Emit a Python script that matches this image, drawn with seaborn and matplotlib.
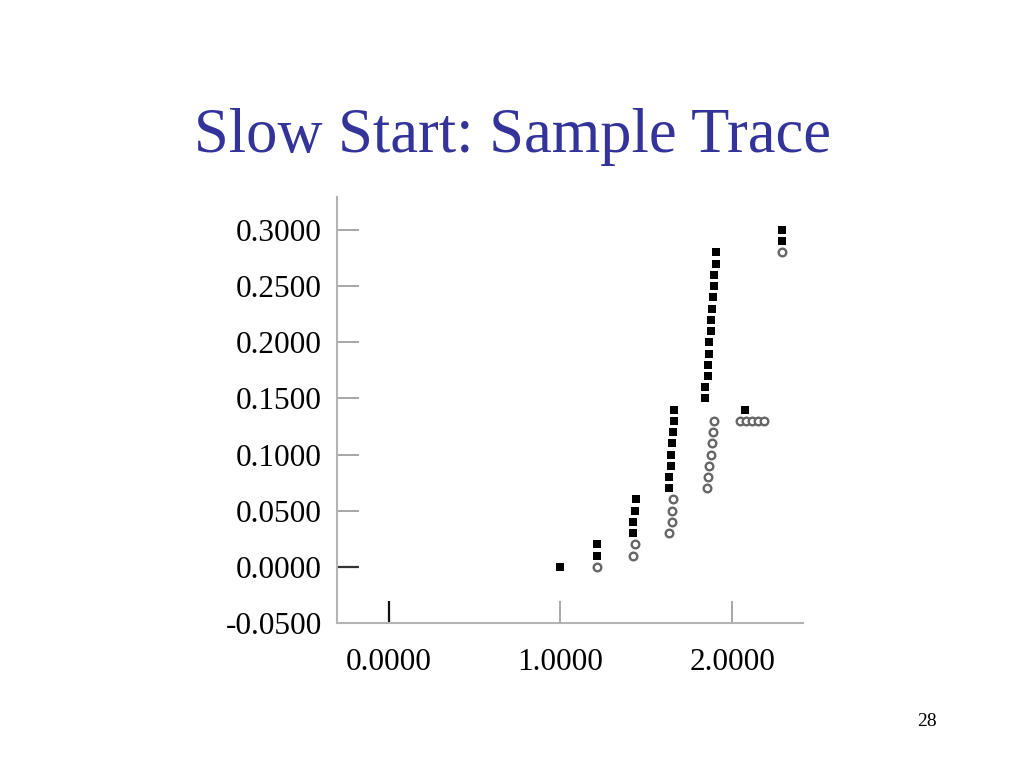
import matplotlib
matplotlib.use("Agg")
import matplotlib.pyplot as plt
import seaborn as sns
import pandas as pd

title = "Slow Start: Sample Trace"
page_number = "28"

# data segments sent (black squares)
seg_x = [1.000,
         1.213, 1.213,
         1.425, 1.425, 1.435, 1.439,
         1.632, 1.632, 1.644, 1.644, 1.650, 1.656, 1.662, 1.662,
         1.842, 1.842, 1.860, 1.860, 1.866, 1.866, 1.877, 1.877,
         1.883, 1.889, 1.895, 1.895, 1.906, 1.906,
         2.075,
         2.290, 2.290]
seg_y = [0.00,
         0.01, 0.02,
         0.03, 0.04, 0.05, 0.06,
         0.07, 0.08, 0.09, 0.10, 0.11, 0.12, 0.13, 0.14,
         0.15, 0.16, 0.17, 0.18, 0.19, 0.20, 0.21, 0.22,
         0.23, 0.24, 0.25, 0.26, 0.27, 0.28,
         0.14,
         0.29, 0.30]

# acks received (grey open circles)
ack_x = [1.212,
         1.425, 1.435,
         1.632, 1.650, 1.650, 1.656,
         1.851, 1.860, 1.868, 1.877, 1.883, 1.889, 1.897,
         2.046, 2.081, 2.116, 2.151, 2.186,
         2.290]
ack_y = [0.00,
         0.01, 0.02,
         0.03, 0.04, 0.05, 0.06,
         0.07, 0.08, 0.09, 0.10, 0.11, 0.12, 0.13,
         0.13, 0.13, 0.13, 0.13, 0.13,
         0.28]

x_ticks = [0.0, 1.0, 2.0]
x_tick_labels = ["0.0000", "1.0000", "2.0000"]
y_ticks = [-0.05, 0.0, 0.05, 0.10, 0.15, 0.20, 0.25, 0.30]
y_tick_labels = ["-0.0500", "0.0000", "0.0500", "0.1000",
                 "0.1500", "0.2000", "0.2500", "0.3000"]

sns.set_style("white")
plt.rcParams["font.family"] = ["Liberation Serif", "DejaVu Serif"]

fig = plt.figure(figsize=(10.24, 7.68), dpi=100)
ax = fig.add_axes([0.3291, 0.1888, 0.4551, 0.5547])

seg_df = pd.DataFrame({"t": seg_x, "seq": seg_y})
ack_df = pd.DataFrame({"t": ack_x, "seq": ack_y})

sns.scatterplot(data=seg_df, x="t", y="seq", marker="s", s=38,
                color="black", edgecolor="black", linewidth=0, ax=ax, zorder=3)
sns.scatterplot(data=ack_df, x="t", y="seq", marker="o", s=30,
                facecolor="white", edgecolor="#666666", linewidth=1.7,
                ax=ax, zorder=3)

ax.set_xlim(-0.301, 2.413)
ax.set_ylim(-0.05, 0.3294)
ax.set_xlabel("")
ax.set_ylabel("")

ax.set_xticks(x_ticks)
ax.set_xticklabels(x_tick_labels)
ax.set_yticks(y_ticks)
ax.set_yticklabels(y_tick_labels)

for side in ["top", "right"]:
    ax.spines[side].set_visible(False)
for side in ["left", "bottom"]:
    ax.spines[side].set_color("#b4b4b4")
    ax.spines[side].set_linewidth(1.5)

ax.tick_params(axis="both", which="major", bottom=True, left=True,
               direction="in", length=16, width=1.3,
               color="#a0a0a0", labelsize=22.5, labelcolor="black")
ax.tick_params(axis="x", pad=18)
ax.tick_params(axis="y", pad=11)

for t in ax.xaxis.get_major_ticks():
    if abs(t.get_loc()) < 1e-9:
        t.tick1line.set_markeredgecolor("#111111")
        t.tick1line.set_markeredgewidth(1.6)
for t in ax.yaxis.get_major_ticks():
    if abs(t.get_loc()) < 1e-9:
        t.tick1line.set_markeredgecolor("#333333")
        t.tick1line.set_markeredgewidth(1.6)

fig.text(0.5, 0.822, title, ha="center", va="center", fontsize=45,
         color="#333399")
fig.text(0.905, 0.055, page_number, ha="center", va="baseline", fontsize=14,
         color="black")

fig.savefig("out.png", dpi=100)
